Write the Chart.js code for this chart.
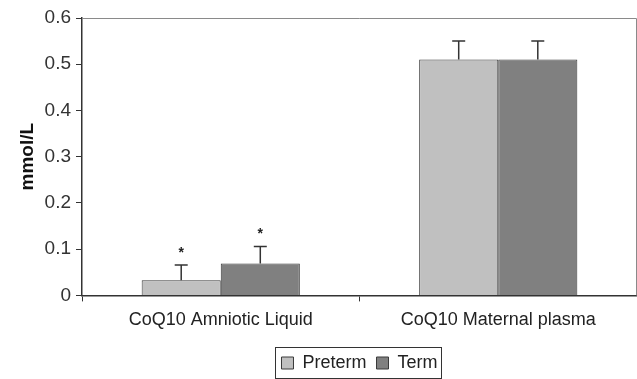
<!DOCTYPE html>
<html>
<head>
<meta charset="utf-8">
<script src="https://cdn.jsdelivr.net/npm/chart.js@4"></script>
<style>
  html, body { margin: 0; padding: 0; background: #fff; }
  #wrap { width: 637px; height: 379px; }
</style>
</head>
<body>
<div id="wrap"><canvas id="coqChart" width="637" height="379"></canvas></div>
<script>
// ── data ──
var categories = ['CoQ10 Amniotic Liquid', 'CoQ10 Maternal plasma'];
var pretermValues = [0.033, 0.51];
var termValues = [0.069, 0.51];
var pretermErrors = [0.033, 0.04];
var termErrors = [0.037, 0.04];
var pretermStars = [true, false];
var termStars = [true, false];
var yTicks = [0, 0.1, 0.2, 0.3, 0.4, 0.5, 0.6];

var fontFamily = "'Liberation Sans', Arial, sans-serif";

// error bars + asterisks
var errorBarPlugin = {
  id: 'errorBars',
  afterDatasetsDraw: function(chart) {
    var ctx = chart.ctx;
    var yScale = chart.scales.y;
    chart.data.datasets.forEach(function(ds, di) {
      var meta = chart.getDatasetMeta(di);
      meta.data.forEach(function(bar, i) {
        var top = yScale.getPixelForValue(ds.data[i] + ds.errors[i]);
        ctx.save();
        ctx.strokeStyle = '#333';
        ctx.lineWidth = 1.5;
        ctx.beginPath();
        ctx.moveTo(bar.x, bar.y);
        ctx.lineTo(bar.x, top);
        ctx.moveTo(bar.x - 6.5, top);
        ctx.lineTo(bar.x + 6.5, top);
        ctx.stroke();
        if (ds.stars[i]) {
          ctx.fillStyle = '#222';
          ctx.font = 'bold 14px ' + fontFamily;
          ctx.textAlign = 'center';
          ctx.textBaseline = 'middle';
          ctx.fillText('*', bar.x, top - 12);
        }
        ctx.restore();
      });
    });
  }
};

// legend sits under the plot centre, a little lower
var legendDy = 5;

var framePlugin = {
  id: 'frame',
  afterLayout: function(chart) {
    var lg = chart.legend;
    var a = chart.chartArea;
    var dx = (a.left + a.right) / 2 - chart.width / 2;
    lg.left += dx; lg.right += dx;
    lg.top += legendDy; lg.bottom += legendDy;
  },
  beforeDatasetsDraw: function(chart) {
    var a = chart.chartArea;
    var ctx = chart.ctx;
    ctx.save();
    ctx.strokeStyle = '#8a8a8a';
    ctx.lineWidth = 1;
    ctx.beginPath();
    ctx.moveTo(a.left, a.top + 0.5);
    ctx.lineTo(a.right - 0.5, a.top + 0.5);
    ctx.lineTo(a.right - 0.5, a.bottom);
    ctx.stroke();
    ctx.restore();
  },
  afterDraw: function(chart) {
    var boxes = chart.legend.legendHitBoxes;
    if (!boxes || !boxes.length) return;
    var minX = Infinity, maxX = -Infinity, minY = Infinity, maxY = -Infinity;
    boxes.forEach(function(b) {
      minX = Math.min(minX, b.left);
      maxX = Math.max(maxX, b.left + b.width);
      minY = Math.min(minY, b.top);
      maxY = Math.max(maxY, b.top + b.height);
    });
    var ctx = chart.ctx;
    ctx.save();
    ctx.strokeStyle = '#333';
    ctx.lineWidth = 1;
    ctx.strokeRect(Math.round(minX - 6) + 0.5, Math.round(minY - 7) + 0.5, Math.round(maxX - minX + 10), Math.round(maxY - minY + 13));
    ctx.restore();
  }
};

new Chart(document.getElementById('coqChart'), {
  type: 'bar',
  data: {
    labels: categories,
    datasets: [
      {
        label: 'Preterm',
        data: pretermValues,
        errors: pretermErrors,
        stars: pretermStars,
        backgroundColor: '#c0c0c0',
        borderColor: '#3a3a3a',
        borderWidth: 1
      },
      {
        label: 'Term',
        data: termValues,
        errors: termErrors,
        stars: termStars,
        backgroundColor: '#808080',
        borderColor: '#3a3a3a',
        borderWidth: 1
      }
    ]
  },
  options: {
    responsive: false,
    animation: false,
    devicePixelRatio: 1,
    layout: { padding: { top: 18, right: 0, left: 0, bottom: 2 } },
    datasets: { bar: { categoryPercentage: 0.57, barPercentage: 1 } },
    plugins: {
      legend: {
        position: 'bottom',
        labels: {
          color: '#222',
          boxWidth: 12,
          boxHeight: 12,
          padding: 10,
          font: { family: fontFamily, size: 18 }
        }
      },
      tooltip: { enabled: false }
    },
    scales: {
      x: {
        grid: { offset: true, drawOnChartArea: false, tickLength: 6, color: '#333' },
        border: { color: '#333', width: 1.5 },
        ticks: { color: '#222', padding: 8, font: { family: fontFamily, size: 18 } }
      },
      y: {
        min: 0,
        max: 0.6,
        afterFit: function(scale) { scale.width = 82; },
        afterBuildTicks: function(scale) {
          scale.ticks = yTicks.map(function(v) { return { value: v }; });
        },
        grid: { drawOnChartArea: false, tickLength: 6, color: '#333' },
        border: { color: '#333', width: 1.5 },
        ticks: {
          color: '#333',
          padding: 5,
          font: { family: fontFamily, size: 19 },
          callback: function(v) { return v === 0 ? '0' : v.toFixed(1); }
        },
        title: {
          display: true,
          text: 'mmol/L',
          color: '#111',
          padding: { top: 16, bottom: 4 },
          font: { family: fontFamily, size: 19, weight: 'bold' }
        }
      }
    }
  },
  plugins: [errorBarPlugin, framePlugin]
});
</script>
</body>
</html>
